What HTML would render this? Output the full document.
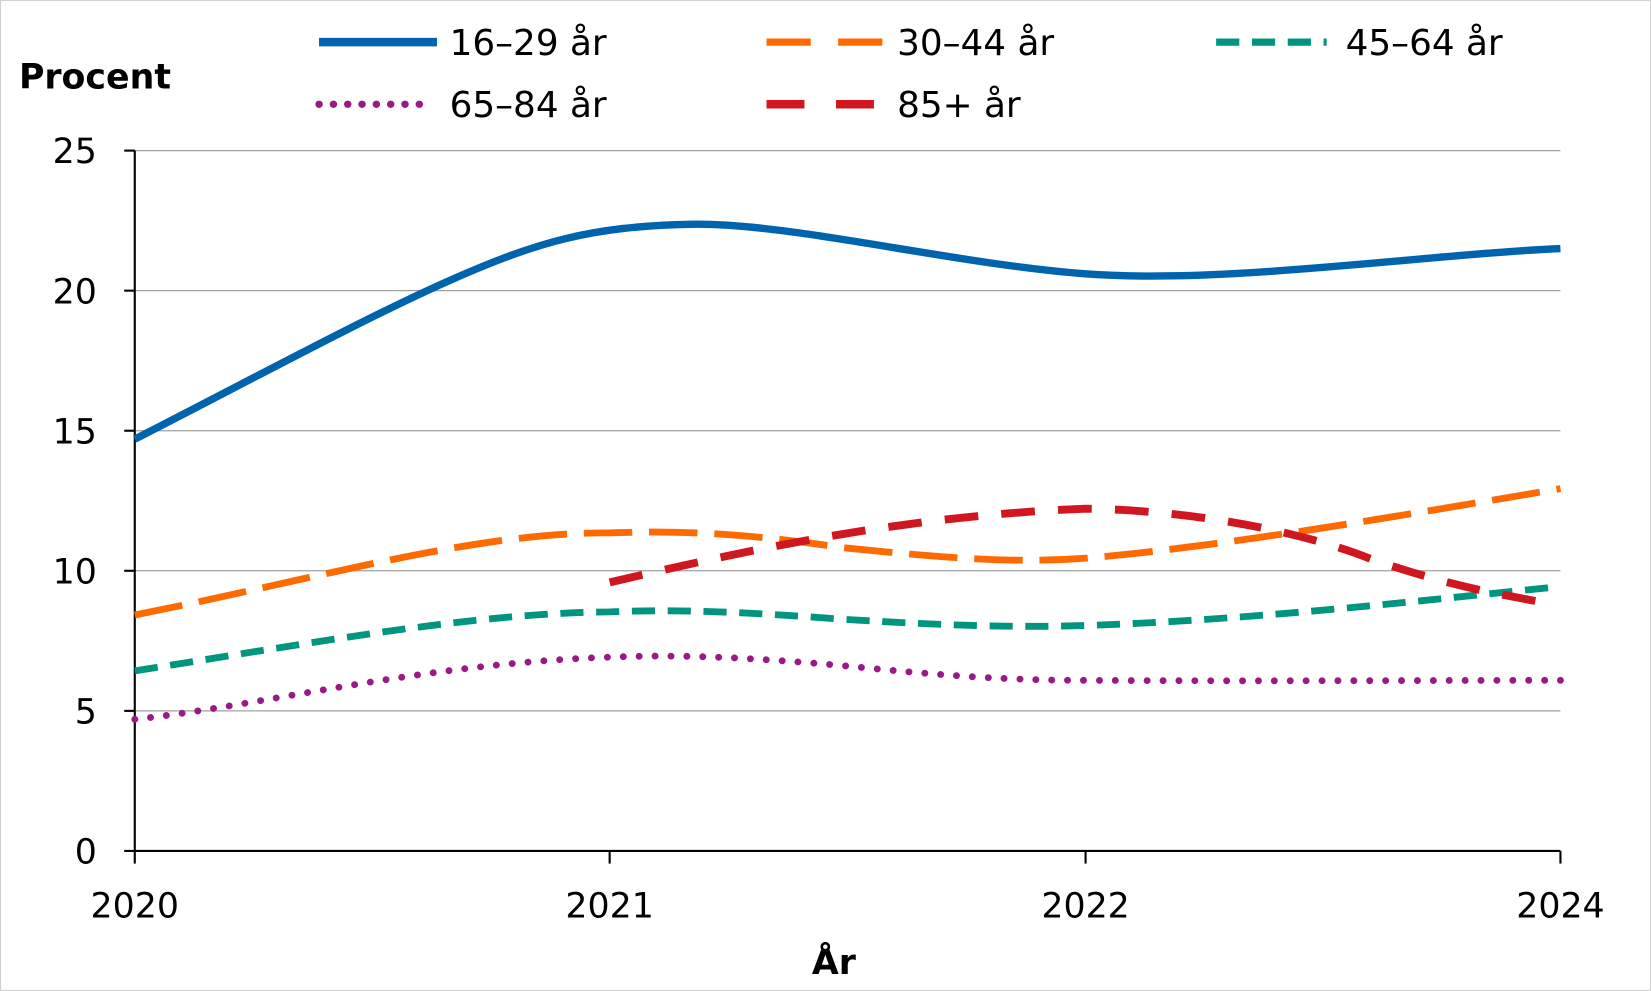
<!DOCTYPE html>
<html><head><meta charset="utf-8"><style>
html,body{margin:0;padding:0;background:#fff;}
svg{display:block;}
text{font-family:"DejaVu Sans","Liberation Sans",sans-serif;fill:#000;}
</style></head><body>
<svg width="1651" height="991" viewBox="0 0 1568 941" preserveAspectRatio="none">
<rect x="0.5" y="0.5" width="1567" height="940" fill="#fff" stroke="#d0d0d0"/>
<g stroke="#a0a0a0" stroke-width="1.2">
<line x1="128" y1="143" x2="1482" y2="143"/>
<line x1="128" y1="276" x2="1482" y2="276"/>
<line x1="128" y1="409" x2="1482" y2="409"/>
<line x1="128" y1="542" x2="1482" y2="542"/>
<line x1="128" y1="675" x2="1482" y2="675"/>
</g>
<g stroke="#000" stroke-width="2">
<line x1="128" y1="143" x2="128" y2="808"/>
<line x1="128" y1="808" x2="1482" y2="808"/>
<line x1="118" y1="143" x2="128" y2="143"/><line x1="118" y1="276" x2="128" y2="276"/>
<line x1="118" y1="409" x2="128" y2="409"/><line x1="118" y1="542" x2="128" y2="542"/>
<line x1="118" y1="675" x2="128" y2="675"/><line x1="118" y1="808" x2="128" y2="808"/>
<line x1="128" y1="808" x2="128" y2="820"/><line x1="579" y1="808" x2="579" y2="820"/>
<line x1="1031" y1="808" x2="1031" y2="820"/><line x1="1482" y1="808" x2="1482" y2="820"/>
</g>
<g font-size="33" text-anchor="end">
<text x="92" y="155">25</text><text x="92" y="288">20</text><text x="92" y="421">15</text>
<text x="92" y="554">10</text><text x="92" y="687">5</text><text x="92" y="820">0</text>
</g>
<g font-size="33" text-anchor="middle">
<text x="128" y="871">2020</text><text x="579" y="871">2021</text>
<text x="1031" y="871">2022</text><text x="1482" y="871">2024</text>
</g>
<text x="792" y="925" font-size="33" font-weight="bold" text-anchor="middle">År</text>
<text x="18" y="84" font-size="33" font-weight="bold">Procent</text>
<g fill="none" stroke-linecap="butt">
<path d="M128,417 C230,365 350,300 430,265 S560,215 655,213 S900,250 1031,260 S1350,242 1482,236" stroke="#0063ad" stroke-width="7"/>
<path d="M128,584 C300,550 450,505 579,506 C640,504 700,505 800,520 C900,530 960,535 1031,530 C1150,520 1300,495 1482,464" stroke="#ff6a00" stroke-width="6.5" stroke-dasharray="46,16"/>
<path d="M128,637 C300,610 450,582 579,581 C650,578 720,582 800,588 C900,594 960,596 1031,594 C1200,588 1350,570 1482,557" stroke="#00957f" stroke-width="6.5" stroke-dasharray="22,12"/>
<path d="M128,683 C250,670 400,630 579,624 C650,621 720,625 800,632 C900,642 960,646 1031,646 C1200,647 1350,646 1482,646" stroke="#991a86" stroke-width="6.5" stroke-dasharray="0.1,15" stroke-linecap="round"/>
<path d="M579,553 C700,525 850,490 1031,483 C1150,485 1250,510 1300,530 C1380,558 1430,565 1465,572" stroke="#d0161f" stroke-width="7.5" stroke-dasharray="32,22"/>
</g>
<g fill="none">
<line x1="303" y1="40" x2="415" y2="40" stroke="#0063ad" stroke-width="8"/>
<line x1="728" y1="40" x2="840" y2="40" stroke="#ff6a00" stroke-width="7" stroke-dasharray="42,26"/>
<line x1="1155" y1="40" x2="1260" y2="40" stroke="#00957f" stroke-width="7" stroke-dasharray="22,12"/>
<line x1="303" y1="99" x2="405" y2="99" stroke="#991a86" stroke-width="7" stroke-dasharray="0.1,13.5" stroke-linecap="round"/>
<line x1="728" y1="99" x2="830" y2="99" stroke="#d0161f" stroke-width="8" stroke-dasharray="36,30"/>
</g>
<g font-size="34">
<text x="427" y="52">16–29 år</text><text x="852" y="52">30–44 år</text><text x="1278" y="52">45–64 år</text>
<text x="427" y="111">65–84 år</text><text x="852" y="111">85+ år</text>
</g>
</svg>
</body></html>
